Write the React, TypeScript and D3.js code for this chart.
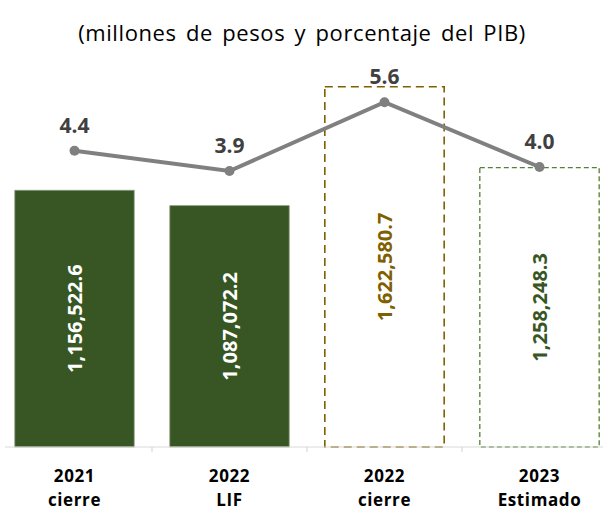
import React from 'react';
import * as d3 from 'd3';

const categories = ['2021|cierre', '2022|LIF', '2022|cierre', '2023|Estimado'];
const amounts = [1156522.6, 1087072.2, 1622580.7, 1258248.3];
const pibShare = [4.4, 3.9, 5.6, 4.0];
const barStyles = ['solid', 'solid', 'gold', 'green'];

const width = 603;
const height = 510;
const baseline = 447;
const font = '"Open Sans", sans-serif';

export default function App() {
  const x = d3.scaleBand().domain(categories).range([-3, 617]).paddingInner(0.23).paddingOuter(0.115);
  const y = d3.scaleLinear().domain([0, 2000000]).range([baseline, 3]);
  const yPct = d3.scaleLinear().domain([0, 8]).range([329, 5]);
  const fmt = d3.format(',.1f');
  const cx = (c: string) => (x(c) as number) + x.bandwidth() / 2;

  const line = d3
    .line<number>()
    .x((_, i) => cx(categories[i]))
    .y(d => yPct(d));

  const ticks = categories.slice(1).map(c => (x(c) as number) - (x.step() * x.paddingInner()) / 2);

  return (
    <svg width={width} height={height} style={{ position: 'absolute', left: 0, top: 0 }}>
      <rect width={width} height={height} fill="#ffffff" />
      <text x={302} y={41} textAnchor="middle" fontFamily={font} fontSize={22} letterSpacing={0.6}
        wordSpacing={3} fill="#000">
        (millones de pesos y porcentaje del PIB)
      </text>

      {categories.map((c, i) => {
        const bx = x(c) as number;
        const by = y(amounts[i]);
        const h = baseline - by;
        const s = barStyles[i];
        const fill = s === 'solid' ? '#375623' : 'none';
        const stroke = s === 'gold' ? '#7F6000' : s === 'green' ? '#548235' : '#8a9a7a';
        const dash = s === 'gold' ? '8 5' : s === 'green' ? '5 3' : undefined;
        const labelColor = s === 'solid' ? '#ffffff' : s === 'gold' ? '#7F6000' : '#375623';
        return (
          <g key={c}>
            <rect x={bx} y={by} width={x.bandwidth()} height={h} fill={fill} stroke={stroke}
              strokeWidth={s === 'solid' ? 0.8 : s === 'gold' ? 1.6 : 1.3} strokeDasharray={dash} />
            <text transform={`translate(${cx(c)},${by + h / 2}) rotate(-90)`} textAnchor="middle"
              dominantBaseline="central" fontFamily={font} fontWeight="bold" fontSize={20} fill={labelColor}>
              {fmt(amounts[i])}
            </text>
          </g>
        );
      })}

      <line x1={5} x2={603} y1={baseline} y2={baseline} stroke="#D9D9D9" strokeWidth={1.2} />
      {ticks.map(t => (
        <line key={t} x1={t} x2={t} y1={baseline} y2={baseline + 5} stroke="#D9D9D9" strokeWidth={1.2} />
      ))}

      <path d={line(pibShare) || ''} fill="none" stroke="#808080" strokeWidth={4} />
      {pibShare.map((v, i) => (
        <g key={i}>
          <circle cx={cx(categories[i])} cy={yPct(v)} r={5} fill="#808080" />
          <text x={cx(categories[i])} y={yPct(v) - 18} textAnchor="middle" fontFamily={font}
            fontWeight="bold" fontSize={21} fill="#404040">
            {v.toFixed(1)}
          </text>
        </g>
      ))}

      {categories.map(c => {
        const [a, b] = c.split('|');
        return (
          <text key={c} x={cx(c)} textAnchor="middle" fontFamily={font} fontWeight="bold" fontSize={17}
            letterSpacing={0.6} fill="#000">
            <tspan x={cx(c)} y={482}>{a}</tspan>
            <tspan x={cx(c)} y={506}>{b}</tspan>
          </text>
        );
      })}
    </svg>
  );
}
